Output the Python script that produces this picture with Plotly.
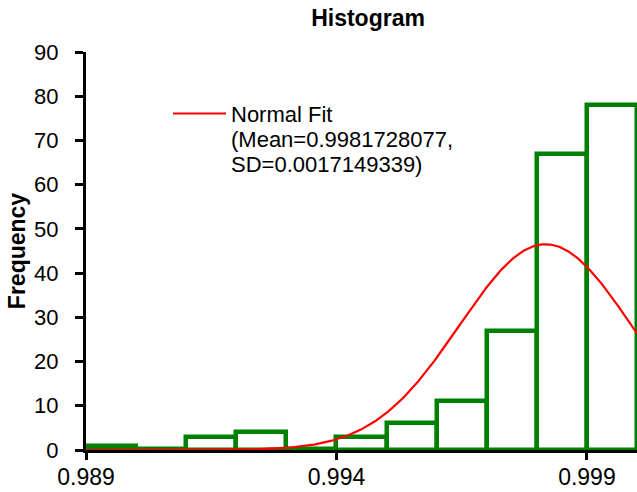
import numpy as np
import plotly.graph_objects as go

bin_starts = [0.989, 0.990, 0.991, 0.992, 0.993, 0.994, 0.995, 0.996, 0.997, 0.998, 0.999]
counts = [1, 0, 3, 4, 0, 3, 6, 11, 27, 67, 78]
bin_width = 0.001
fit_mean = 0.9981728077
fit_sd = 0.0017149339
n_total = sum(counts)
x_ticks = [0.989, 0.994, 0.999]
x_tick_labels = ["0.989", "0.994", "0.999"]
legend_lines = ["Normal Fit", "(Mean=0.9981728077,", "SD=0.0017149339)"]

xs = np.linspace(0.989, 1.0, 400)
ys = n_total * bin_width * np.exp(-0.5 * ((xs - fit_mean) / fit_sd) ** 2) / (fit_sd * np.sqrt(2 * np.pi))

W, H = 637, 492
ML, MR, MT, MB = 86, 0, 52, 42
PW, PH = W - ML - MR, H - MT - MB


def px(xp):
    return (xp - ML) / PW


def py(yp):
    return (H - MB - yp) / PH


GREEN = "#008000"
fig = go.Figure()
fig.add_trace(go.Bar(
    x=[s + bin_width / 2 for s in bin_starts], y=counts, width=bin_width,
    marker=dict(color="white", line=dict(color=GREEN, width=4.5)),
    showlegend=False, hoverinfo="skip"))

# empty bins are drawn as flat outlines on the baseline
zx, zy = [], []
for s, c in zip(bin_starts, counts):
    if c == 0:
        zx += [s, s + bin_width, None]
        zy += [0.35, 0.35, None]
fig.add_trace(go.Scatter(x=zx, y=zy, mode="lines", line=dict(color=GREEN, width=4),
                         showlegend=False, hoverinfo="skip"))

fig.add_trace(go.Scatter(
    x=xs, y=ys, mode="lines", line=dict(color="#ff0000", width=2.2),
    name="Normal Fit", showlegend=False))

font_family = "Liberation Sans, Arial, sans-serif"
annotations = []
for txt, yy in zip(legend_lines, [114, 139, 164]):
    annotations.append(dict(text=txt, x=px(229), y=py(yy), xref="paper", yref="paper",
                            xanchor="left", yanchor="middle", showarrow=False,
                            font=dict(size=22, family=font_family, color="black")))

fig.update_layout(
    width=W, height=H,
    margin=dict(l=ML, r=MR, t=MT, b=MB, autoexpand=False),
    paper_bgcolor="white", plot_bgcolor="white",
    font=dict(family=font_family, color="#000000"),
    title=dict(text="<b>Histogram</b>", x=368 / W, xanchor="center", y=1 - 18 / H, yanchor="middle",
               font=dict(size=23)),
    bargap=0,
    showlegend=False,
    shapes=[dict(type="line", xref="paper", yref="paper", x0=px(173), x1=px(226),
                 y0=py(113.5), y1=py(113.5), line=dict(color="#ff0000", width=2.2))],
    annotations=annotations,
    xaxis=dict(range=[0.989, 1.0], tickvals=x_ticks, ticktext=x_tick_labels, automargin=False,
               showgrid=False, zeroline=False, showline=True, linecolor="black", linewidth=3,
               ticks="outside", ticklen=7, tickwidth=2.5, tickcolor="black", tickfont=dict(size=23),
               ticklabelstandoff=-3),
    yaxis=dict(range=[0, 90], dtick=10, showgrid=False, zeroline=False, showline=True, automargin=False,
               linecolor="black", linewidth=3, ticks="outside", ticklen=8, tickwidth=2.5,
               tickcolor="black", tickfont=dict(size=22), ticklabelstandoff=12,
               title=dict(text="<b>Frequency</b>", font=dict(size=23), standoff=3)),
)
fig.write_html("out.html")
